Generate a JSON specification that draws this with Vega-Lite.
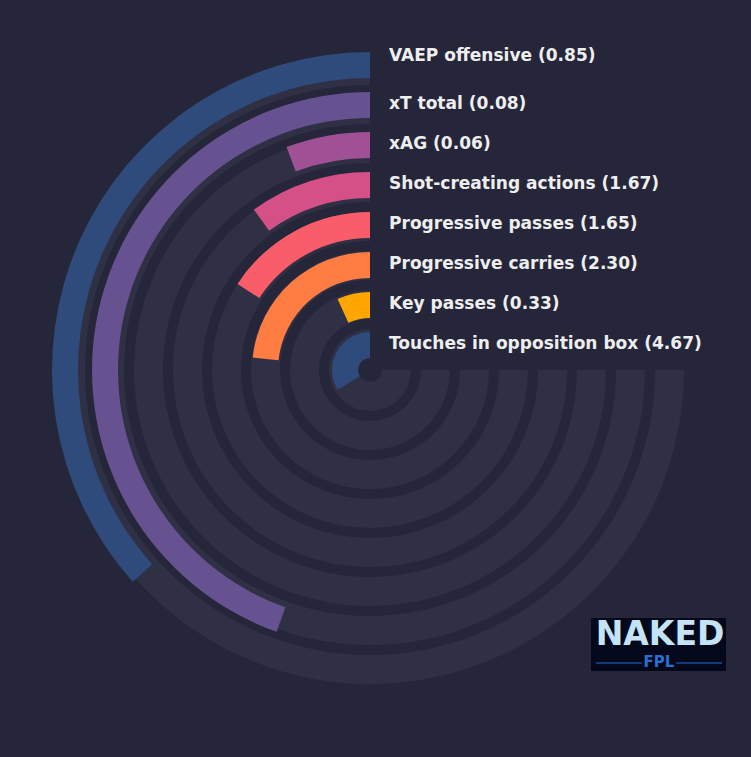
{
  "$schema": "https://vega.github.io/schema/vega-lite/v6.json",
  "width": 740,
  "height": 740,
  "autosize": {"type": "none"},
  "padding": {"left": 0, "top": 0, "right": 11, "bottom": 17},
  "background": "#25263a",
  "config": {"view": {"stroke": null}},
  "datasets": {
    "metrics": [
      {"ring": 7, "metric": "VAEP offensive", "value": 0.85, "pct": 48.8, "label": "VAEP offensive (0.85)"},
      {"ring": 6, "metric": "xT total", "value": 0.08, "pct": 59.4, "label": "xT total (0.08)"},
      {"ring": 5, "metric": "xAG", "value": 0.06, "pct": 7.6, "label": "xAG (0.06)"},
      {"ring": 4, "metric": "Shot-creating actions", "value": 1.67, "pct": 13.3, "label": "Shot-creating actions (1.67)"},
      {"ring": 3, "metric": "Progressive passes", "value": 1.65, "pct": 21.1, "label": "Progressive passes (1.65)"},
      {"ring": 2, "metric": "Progressive carries", "value": 2.30, "pct": 31.1, "label": "Progressive carries (2.30)"},
      {"ring": 1, "metric": "Key passes", "value": 0.33, "pct": 9.1, "label": "Key passes (0.33)"},
      {"ring": 0, "metric": "Touches in opposition box", "value": 4.67, "pct": 45.0, "label": "Touches in opposition box (4.67)"}
    ]
  },
  "layer": [
    {
      "data": {"name": "metrics"},
      "mark": {"type": "arc", "radiusOffset": 29, "color": "#2f3044"},
      "encoding": {
        "theta": {"value": 0},
        "theta2": {"value": -4.712389},
        "radius": {"field": "ring", "type": "quantitative",
          "scale": {"type": "linear", "zero": false, "domain": [0, 7], "range": [12, 285]}},
        "radius2": {"field": "ring"}
      }
    },
    {
      "data": {"name": "metrics"},
      "layer": [
        {
          "mark": {"type": "arc", "radiusOffset": 26},
          "encoding": {
            "theta": {"field": "pct", "type": "quantitative", "stack": null,
              "scale": {"domain": [0, 100], "range": [0, -4.712389]}},
            "theta2": {"value": 0},
            "radius": {"field": "ring", "type": "quantitative",
              "scale": {"type": "linear", "zero": false, "domain": [0, 7], "range": [12, 292]}},
            "radius2": {"field": "ring"},
            "color": {"field": "metric", "type": "nominal", "legend": null,
              "scale": {
                "domain": ["VAEP offensive", "xT total", "xAG", "Shot-creating actions", "Progressive passes", "Progressive carries", "Key passes", "Touches in opposition box"],
                "range": ["#2f4b7c", "#665191", "#a05195", "#d45087", "#f95d6a", "#ff7c43", "#ffa600", "#2f4b7c"]
              }}
          }
        },
        {
          "transform": [{"filter": "datum.ring < 7"}],
          "mark": {"type": "text", "align": "left", "baseline": "middle", "dx": 19, "dy": -14,
            "font": "DejaVu Sans", "fontWeight": "bold", "fontSize": 17.05, "color": "#eeeeee"},
          "encoding": {
            "theta": {"value": 0},
            "radius": {"field": "ring", "type": "quantitative"},
            "text": {"field": "label"}
          }
        },
        {
          "transform": [{"filter": "datum.ring == 7"}],
          "mark": {"type": "text", "align": "left", "baseline": "middle", "dx": 19, "dy": -22,
            "font": "DejaVu Sans", "fontWeight": "bold", "fontSize": 17.05, "color": "#eeeeee"},
          "encoding": {
            "theta": {"value": 0},
            "radius": {"field": "ring", "type": "quantitative"},
            "text": {"field": "label"}
          }
        }
      ]
    },
    {
      "data": {"values": [{"brand": "NAKED", "sub": "FPL"}]},
      "layer": [
        {
          "mark": {"type": "rect", "color": "#03091a"},
          "encoding": {
            "x": {"value": 591}, "x2": {"value": 726},
            "y": {"value": 618}, "y2": {"value": 671}
          }
        },
        {
          "mark": {"type": "rule", "color": "#1f6fd6", "strokeWidth": 1.2},
          "encoding": {
            "x": {"value": 596}, "x2": {"value": 642},
            "y": {"value": 663}
          }
        },
        {
          "mark": {"type": "rule", "color": "#1f6fd6", "strokeWidth": 1.2},
          "encoding": {
            "x": {"value": 676}, "x2": {"value": 722},
            "y": {"value": 663}
          }
        },
        {
          "mark": {"type": "text", "align": "center", "baseline": "middle",
            "font": "DejaVu Sans", "fontWeight": "bold", "fontSize": 33, "color": "#c5e3f7"},
          "encoding": {
            "x": {"value": 660}, "y": {"value": 635},
            "text": {"field": "brand"}
          }
        },
        {
          "mark": {"type": "text", "align": "center", "baseline": "middle",
            "font": "DejaVu Sans", "fontWeight": "bold", "fontSize": 15, "color": "#2a6fd0"},
          "encoding": {
            "x": {"value": 659}, "y": {"value": 662},
            "text": {"field": "sub"}
          }
        }
      ]
    }
  ],
  "resolve": {"scale": {"radius": "independent", "theta": "independent"}}
}
